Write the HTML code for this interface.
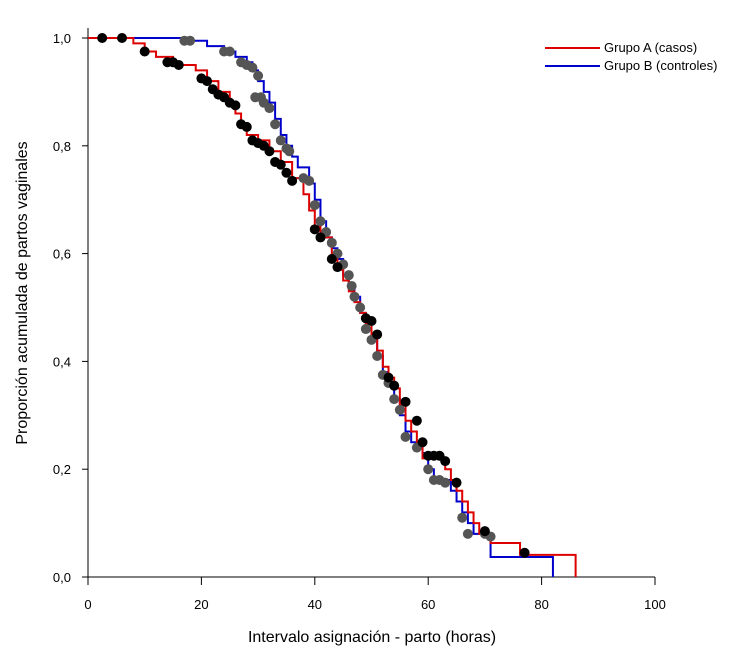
<!DOCTYPE html>
<html><head><meta charset="utf-8"><style>
body{margin:0;background:#fff;}
svg text{font-family:"Liberation Sans",Arial,sans-serif;fill:#000;}
</style></head><body>
<svg id="c" width="742" height="653" viewBox="0 0 742 653"></svg>
<script>
const xTicks=[0,20,40,60,80,100];
const yTicks=[0,0.2,0.4,0.6,0.8,1.0];
const yTickLabels=["0,0","0,2","0,4","0,6","0,8","1,0"];
const groupATimes=[0,8,10,12,15,19,21,23,25,26,27,28,30,32,34,36,38,39,40,41,43,44,45,46,47,48,49,50,51,52,53,54,55,56,57,58,59,63,64,65,66,67,68,69,71,76.2,86];
const groupASurv=[1,0.99,0.975,0.965,0.95,0.94,0.92,0.9,0.88,0.86,0.84,0.82,0.81,0.79,0.77,0.74,0.71,0.68,0.65,0.63,0.6,0.57,0.55,0.53,0.51,0.49,0.47,0.45,0.42,0.39,0.37,0.35,0.32,0.29,0.27,0.25,0.22,0.2,0.18,0.16,0.14,0.12,0.1,0.08,0.063,0.041,0];
const groupBTimes=[0,17,21,24,26,28,29,30,31,32,33,34,35,36,37,39,40,41,42,43,44,45,46,47,48,49,50,51,52,53,54,55,56,57,59,60,61,64,65,66,67,68,71,82];
const groupBSurv=[1,0.995,0.985,0.975,0.965,0.955,0.94,0.92,0.9,0.88,0.85,0.82,0.8,0.78,0.76,0.73,0.7,0.66,0.63,0.61,0.59,0.56,0.54,0.52,0.49,0.47,0.44,0.41,0.38,0.36,0.33,0.3,0.27,0.25,0.23,0.2,0.18,0.16,0.14,0.12,0.1,0.08,0.037,0];
const censorATimes=[2.5,6,10,14,15,16,20,21,22,23,24,25,26,27,28,29,30,31,32,33,34,35,36,40,41,43,44,49,50,51,53,54,56,58,59,60,61,62,63,65,70,77];
const censorASurv=[1,1,0.975,0.955,0.955,0.95,0.925,0.92,0.905,0.895,0.89,0.88,0.875,0.84,0.835,0.81,0.805,0.8,0.79,0.77,0.765,0.75,0.735,0.645,0.63,0.59,0.575,0.48,0.475,0.45,0.37,0.355,0.325,0.29,0.25,0.225,0.225,0.225,0.215,0.175,0.085,0.045];
const censorBTimes=[17,18,24,25,27,28,29,30,29.5,30.5,31,32,33,34,35,35.5,38,39,40,41,42,43,44,45,46,46.5,47,48,49,50,51,52,53,54,55,56,58,60,61,62,63,66,67,70,71];
const censorBSurv=[0.995,0.995,0.975,0.975,0.955,0.95,0.945,0.93,0.89,0.89,0.88,0.87,0.84,0.81,0.795,0.79,0.74,0.735,0.69,0.66,0.64,0.62,0.6,0.58,0.56,0.54,0.52,0.5,0.46,0.44,0.41,0.375,0.36,0.33,0.31,0.26,0.24,0.2,0.18,0.18,0.175,0.11,0.08,0.08,0.075];

const NS="http://www.w3.org/2000/svg";
const svg=document.getElementById('c');
const X=t=>88+5.67*t;
const Y=s=>577-539*s;
function mk(tag,attrs,parent){const e=document.createElementNS(NS,tag);for(const k in attrs)e.setAttribute(k,attrs[k]);(parent||svg).appendChild(e);return e;}

// axes
let ax=mk('line',{x1:88,y1:28,x2:88,y2:577,stroke:'#000','stroke-width':1});


let bx=mk('line',{x1:88,y1:577,x2:655,y2:577,stroke:'#000','stroke-width':1});


yTicks.forEach((v,i)=>{
  mk('line',{x1:82,y1:Y(v),x2:88,y2:Y(v),stroke:'#000'});
  const t=mk('text',{x:71,y:Y(v)+5,'text-anchor':'end','font-size':13});
  t.textContent=yTickLabels[i];
  
  
});
xTicks.forEach(v=>{
  mk('line',{x1:X(v),y1:577,x2:X(v),y2:585,stroke:'#000'});
  const t=mk('text',{x:X(v),y:609,'text-anchor':'middle','font-size':13});
  t.textContent=v;
  
  
});
let xt=mk('text',{x:372,y:642,'text-anchor':'middle','font-size':16});
xt.textContent='Intervalo asignación - parto (horas)';


let yt=mk('text',{x:0,y:0,'text-anchor':'middle','font-size':16,transform:'translate(27,293) rotate(-90)'});
yt.textContent='Proporción acumulada de partos vaginales';



function stepPath(ts,ss){let d='M'+X(ts[0])+','+Y(ss[0]);for(let i=1;i<ts.length;i++){d+=' H'+X(ts[i])+' V'+Y(ss[i]);}return d;}
let pb=mk('path',{d:stepPath(groupBTimes,groupBSurv),fill:'none',stroke:'#0000cc','stroke-width':2});


let pa=mk('path',{d:stepPath(groupATimes,groupASurv),fill:'none',stroke:'#dd0000','stroke-width':2});



censorBTimes.forEach((t,i)=>{
  const c=mk('circle',{cx:X(t),cy:Y(censorBSurv[i]),r:5,fill:'#555'});
  
  
});
censorATimes.forEach((t,i)=>{
  const c=mk('circle',{cx:X(t),cy:Y(censorASurv[i]),r:5,fill:'#000'});
  
  
});

// legend
let l1=mk('line',{x1:545,y1:48,x2:600,y2:48,stroke:'#dd0000','stroke-width':2});


let t1=mk('text',{x:604,y:52,'font-size':13});t1.textContent='Grupo A (casos)';


let l2=mk('line',{x1:545,y1:66,x2:600,y2:66,stroke:'#0000cc','stroke-width':2});


let t2=mk('text',{x:604,y:70,'font-size':13});t2.textContent='Grupo B (controles)';


</script>
</body></html>
